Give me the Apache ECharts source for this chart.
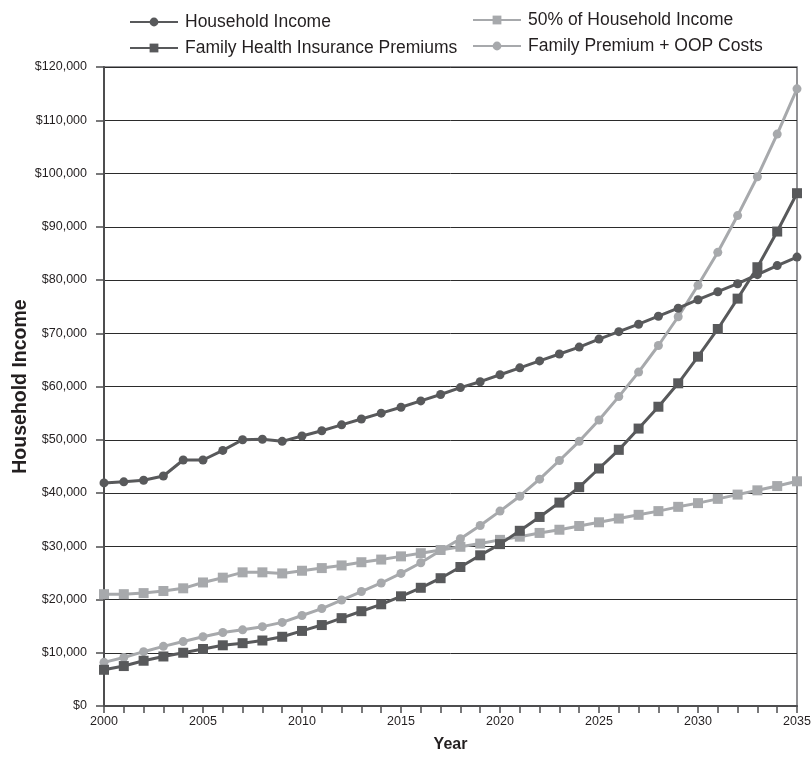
<!DOCTYPE html>
<html>
<head>
<meta charset="utf-8">
<script src="https://cdn.jsdelivr.net/npm/echarts@6/dist/echarts.min.js"></script>
<style>
  html, body { margin: 0; padding: 0; background: #fff; }
  #chart { width: 811px; height: 758px; }
</style>
</head>
<body>
<div id="chart"></div>
<script>
// Projection years 2000-2035
const years = [];
for (let y = 2000; y <= 2035; y++) years.push(String(y));

const householdIncome = [
  41900, 42100, 42400, 43200, 46200, 46200, 48000, 50000, 50100, 49700,
  50700, 51700, 52800, 53900, 55000, 56100, 57300, 58500, 59800, 60900,
  62200, 63500, 64800, 66100, 67400, 68900, 70300, 71700, 73200, 74700,
  76300, 77800, 79300, 81000, 82700, 84300
];

const halfHouseholdIncome = [
  21000, 21000, 21200, 21600, 22100, 23200, 24100, 25100, 25100, 24900,
  25400, 25900, 26400, 27000, 27500, 28100, 28700, 29300, 29900, 30500,
  31200, 31800, 32500, 33100, 33800, 34500, 35200, 35900, 36600, 37400,
  38100, 38900, 39700, 40500, 41300, 42200
];

const familyPremiums = [
  6800, 7500, 8500, 9300, 10000, 10700, 11400, 11800, 12300, 13000,
  14100, 15200, 16500, 17800, 19100, 20600, 22200, 24000, 26100, 28300,
  30400, 32900, 35500, 38200, 41100, 44600, 48100, 52100, 56200, 60600,
  65600, 70800, 76500, 82400, 89100, 96300
];

const premiumPlusOOP = [
  8200, 9100, 10200, 11200, 12100, 13000, 13800, 14300, 14900, 15700,
  17000, 18300, 19900, 21500, 23100, 24900, 26900, 29200, 31400, 33900,
  36600, 39400, 42600, 46100, 49700, 53700, 58100, 62700, 67700, 73100,
  79000, 85200, 92100, 99400, 107400, 115900
];

const yTicks = [0, 10000, 20000, 30000, 40000, 50000, 60000, 70000, 80000, 90000, 100000, 110000, 120000];

const DARK = '#58595b';
const LIGHT = '#a7a9ac';
const FONT = '"Liberation Sans", Arial, Helvetica, sans-serif';

function lineSeries(name, data, color, symbol, size, z) {
  return {
    name: name,
    type: 'line',
    data: data,
    symbol: symbol,
    symbolSize: size,
    showSymbol: true,
    z: z,
    lineStyle: { color: color, width: 3 },
    itemStyle: { color: color },
    emphasis: { disabled: true },
    animation: false
  };
}

const chart = echarts.init(document.getElementById('chart'), null, { renderer: 'canvas' });

const legendText = { fontFamily: FONT, fontSize: 17.5, color: '#231f20', padding: [0, 0, 0, 2] };

chart.setOption({
  backgroundColor: '#ffffff',
  animation: false,
  textStyle: { fontFamily: FONT },
  legend: [
    {
      data: ['Household Income', 'Family Health Insurance Premiums'],
      orient: 'vertical',
      left: 124,
      top: 8,
      itemWidth: 48,
      itemHeight: 11,
      itemGap: 8,
      textStyle: legendText,
      selectedMode: false
    },
    {
      data: ['50% of Household Income', 'Family Premium + OOP Costs'],
      orient: 'vertical',
      left: 467,
      top: 6,
      itemWidth: 48,
      itemHeight: 11,
      itemGap: 8,
      textStyle: legendText,
      selectedMode: false
    }
  ],
  grid: {
    left: 104,
    right: 14,
    top: 67,
    bottom: 52,
    containLabel: false,
    outerBoundsMode: 'none',
    show: true,
    borderColor: '#6d6e71',
    borderWidth: 1.5
  },
  xAxis: {
    type: 'category',
    data: years,
    boundaryGap: false,
    name: 'Year',
    nameLocation: 'middle',
    nameGap: 31,
    nameMoveOverlap: false,
    nameTextStyle: { fontFamily: FONT, fontSize: 16, fontWeight: 'bold', color: '#231f20' },
    axisLine: { lineStyle: { color: '#4d4d4f', width: 2 } },
    axisTick: { show: true, interval: 0, length: 7, lineStyle: { color: '#4d4d4f', width: 1.5 } },
    axisLabel: {
      interval: 4,
      fontFamily: FONT,
      fontSize: 12.5,
      color: '#231f20',
      margin: 9
    },
    splitLine: { show: false }
  },
  yAxis: {
    type: 'value',
    min: 0,
    max: 120000,
    interval: 10000,
    name: 'Household Income',
    nameLocation: 'middle',
    nameGap: 73,
    nameMoveOverlap: false,
    nameTextStyle: { fontFamily: FONT, fontSize: 19.5, fontWeight: 'bold', color: '#231f20' },
    axisLine: { show: true, lineStyle: { color: '#4d4d4f', width: 2 } },
    axisTick: { show: true, length: 8, lineStyle: { color: '#4d4d4f', width: 1.5 } },
    axisLabel: {
      fontFamily: FONT,
      fontSize: 12.5,
      color: '#231f20',
      margin: 17,
      formatter: function (v) {
        if (yTicks.indexOf(v) < 0) return '';
        return '$' + v.toLocaleString('en-US');
      }
    },
    splitLine: { show: true, lineStyle: { color: '#2b2b2b', width: 1 } }
  },
  series: [
    lineSeries('Household Income', householdIncome, DARK, 'circle', 9, 4),
    lineSeries('Family Health Insurance Premiums', familyPremiums, DARK, 'rect', 10, 3),
    lineSeries('50% of Household Income', halfHouseholdIncome, LIGHT, 'rect', 10, 2),
    lineSeries('Family Premium + OOP Costs', premiumPlusOOP, LIGHT, 'circle', 9, 2)
  ]
});
</script>
</body>
</html>
